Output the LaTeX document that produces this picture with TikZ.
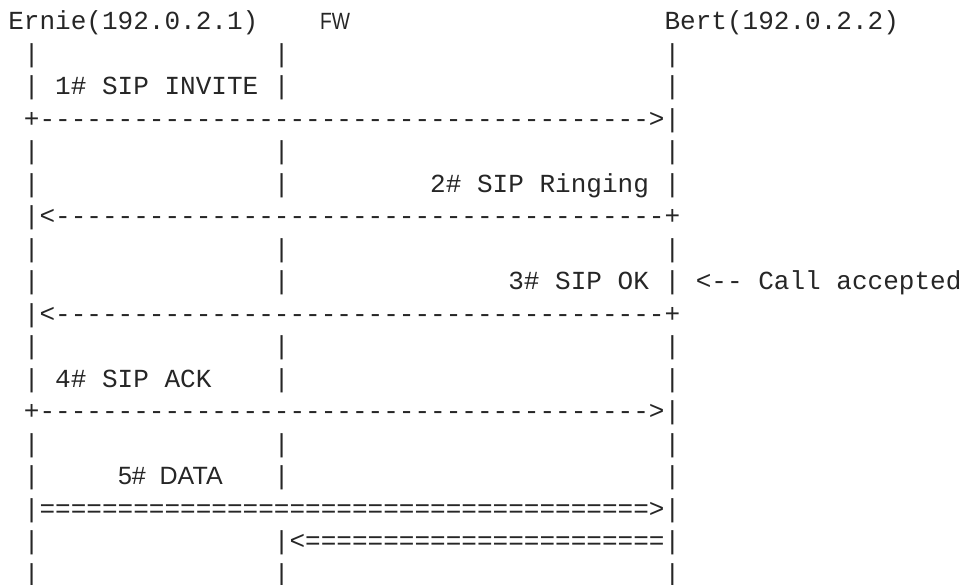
\documentclass[tikz,border=0pt]{standalone}
\usepackage{fontspec}
\setmonofont{Liberation Mono}
\newfontfamily\sanslabel{Liberation Sans}
\definecolor{ink}{HTML}{262626}

% repeat a character n times (for the dashed / double arrows)
\ExplSyntaxOn
\cs_new:Npn \reptext #1#2 { \prg_replicate:nn {#1} {#2} }
\ExplSyntaxOff

\tikzset{
  ascii/.style={inner sep=0pt, outer sep=0pt, anchor=base west, text=ink,
    font=\fontsize{26.04pt}{32.5pt}\selectfont\ttfamily},
  sanslbl/.style={inner sep=0pt, outer sep=0pt, anchor=base west, text=ink,
    font=\fontsize{25pt}{30pt}\selectfont\sanslabel},
}

% text cell at row #1, column #2 of the character grid
\newcommand\cell[3]{\node[ascii] (t#1-#2) at ({8.3pt+15.625pt*#2},{555pt-32.5pt*#1}) {#3};}
% the three vertical lifelines of a row
\newcommand\lifelines[1]{\cell{#1}{1}{|}\cell{#1}{17}{|}\cell{#1}{42}{|}}

\begin{document}
\begin{tikzpicture}[x=1pt,y=1pt]
\fill[white] (0,0) rectangle (962,585);
\useasboundingbox (0,0) rectangle (962,585);

% header
\cell{0}{0}{Ernie(192.0.2.1)}
\node[sanslbl, font=\fontsize{23.5pt}{28pt}\selectfont\sanslabel] (fw) at (320,555) {\scalebox{0.82}[1]{FW}};
\cell{0}{42}{Bert(192.0.2.2)}

% 1# SIP INVITE
\lifelines{1}
\lifelines{2}
\cell{2}{3}{1\# SIP INVITE}
\cell{3}{1}{+\reptext{39}{-}>|}

% 2# SIP Ringing
\lifelines{4}
\lifelines{5}
\cell{5}{27}{2\# SIP Ringing}
\cell{6}{1}{|<\reptext{39}{-}+}

% 3# SIP OK
\lifelines{7}
\lifelines{8}
\cell{8}{32}{3\# SIP OK}
\cell{8}{44}{<-- Call accepted}
\cell{9}{1}{|<\reptext{39}{-}+}

% 4# SIP ACK
\lifelines{10}
\lifelines{11}
\cell{11}{3}{4\# SIP ACK}
\cell{12}{1}{+\reptext{39}{-}>|}

% 5# DATA
\lifelines{13}
\lifelines{14}
\node[sanslbl] (data) at (118,100) {5\#~~DATA};
\cell{15}{1}{|\reptext{39}{=}>|}
\cell{16}{1}{|}
\cell{16}{17}{|<\reptext{23}{=}|}
\lifelines{17}
\end{tikzpicture}
\end{document}
